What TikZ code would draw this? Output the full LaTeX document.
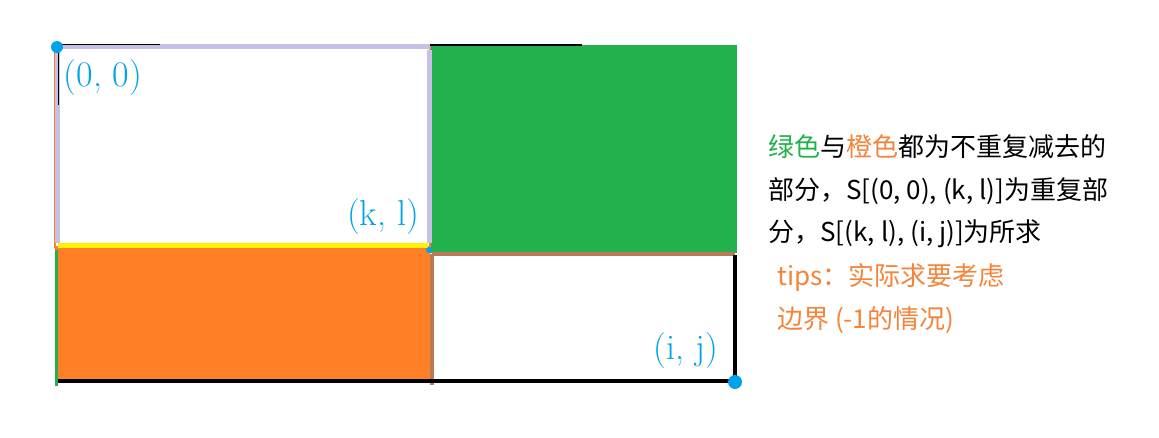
\documentclass[tikz,border=0pt]{standalone}
\usepackage{fontspec}
\newfontfamily\cjk{Noto Sans CJK SC}
\usetikzlibrary{positioning}
\definecolor{pgreen}{HTML}{22B14C}
\definecolor{porange}{HTML}{FF7F27}
\definecolor{plilac}{HTML}{C8BFE7}
\definecolor{pyellow}{HTML}{FFF200}
\definecolor{pbrown}{HTML}{B97A57}
\definecolor{pblue}{HTML}{00A2E8}
\definecolor{torange}{HTML}{F5843A}
\tikzset{
  corner/.style={text=pblue,font=\fontsize{36}{40}\selectfont},
  note/.style={anchor=west,inner sep=0pt,font=\cjk\fontsize{26}{30}\selectfont},
  dot/.style={fill=pblue}
}
\begin{document}
\begin{tikzpicture}[x=1pt,y=-1pt]
    \useasboundingbox[fill=white] (0,0) rectangle (1159,437);
    \coordinate (o) at (57,47);
    \coordinate (kl) at (430,248);
    \coordinate (ij) at (735,382);

    % areas
    \fill[pgreen] (430,45) rectangle (737,253);
    \fill[porange] (55,248) rectangle (430,382);
    \draw[porange,line width=1.5] (55,47) rectangle (430,247);
    \draw[plilac,line width=5] (60,46) -- (430,46);
    \draw[plilac,line width=5] (57,50) -- (57,243) (429,50) -- (429,243);
    \draw[black,line width=1] (57,44) -- (160,44) (58,45) -- (58,105);
    \draw[black,line width=2] (430,45) -- (582,45);
    \draw[pyellow,line width=5] (58,245) -- (428,245);
    \draw[pgreen,line width=3] (56,250) -- (56,386);
    \draw[pbrown,line width=4] (432,254) -- (735,254) (432,254) -- (432,385);
    \draw[black,line width=4] (58,381) -- (735,381) (735,255) -- (735,382);
    \fill[dot] (o) circle (6);
    \fill[dot] (ij) circle (7);
    \fill[dot] (kl) ++(-1,2) circle (3);

    % labels
    \node[corner] (lo) at (103,78) {(0, 0)};
    \node[corner] (lkl) at (383,217) {(k, l)};
    \node[corner] (lij) at (686,351) {(i, j)};

    \node[note] (n1) at (768,147) {\textcolor{pgreen}{绿色}与\textcolor{torange}{橙色}都为不重复减去的};
    \node[note] (n2) at (768,191) {部分，S[(0, 0), (k, l)]为重复部};
    \node[note] (n3) at (768,234) {分，S[(k, l), (i, j)]为所求};
    \node[note,text=torange] (n4) at (777,277) {tips：实际求要考虑};
    \node[note,text=torange] (n5) at (777,320) {边界 (-1的情况)};
  \end{tikzpicture}
\end{document}
